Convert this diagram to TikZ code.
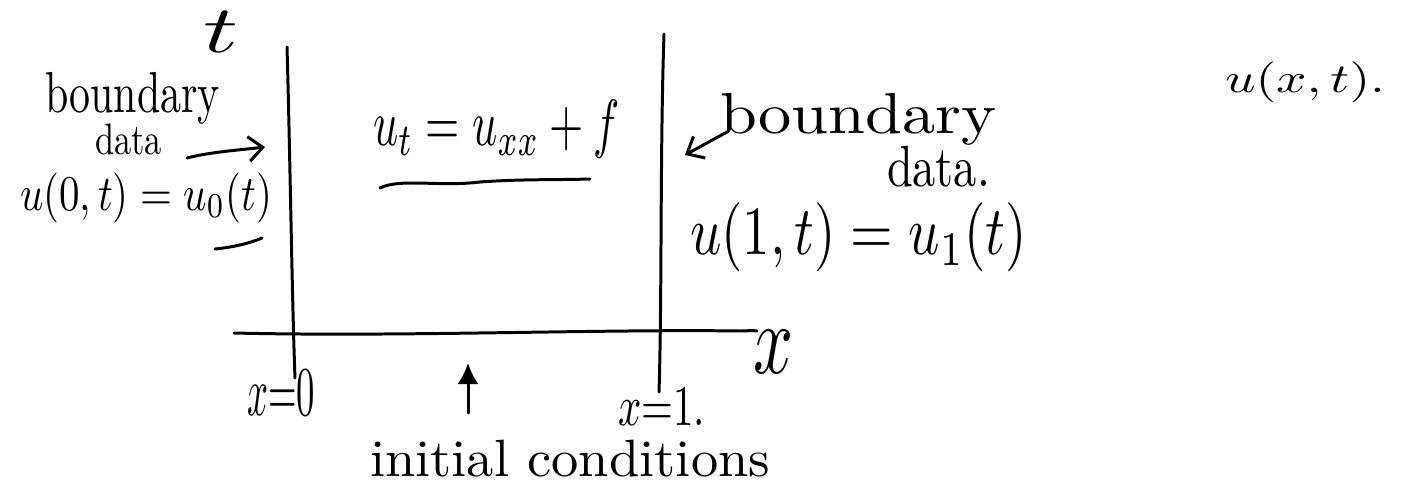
\documentclass[tikz,border=0pt]{standalone}
\usetikzlibrary{arrows.meta}
\newlength\pxu \setlength\pxu{0.02cm}
\newcommand\fitbox[3]{\resizebox*{#1\pxu}{#2\pxu}{#3}}
\tikzset{
  ink/.style={line width=1.7pt, line cap=round, line join=round},
  lbl/.style={inner sep=0pt, outer sep=0pt, anchor=north west},
  barb/.style={-{Straight Barb[length=8pt,width=14pt]}},
  uparrow/.style={-{Latex[length=12pt,width=12pt]}},
}
\begin{document}
\begin{tikzpicture}[x=0.02cm,y=-0.02cm]
\useasboundingbox[fill=white] (0,0) rectangle (1402,489);

% labels
\node[lbl] (t) at (203,12) {\fitbox{35}{41}{$t$}};
\node[lbl] (bdL) at (45,72) {\fitbox{175}{52}{boundary}};
\node[lbl] (daL) at (95,124) {\fitbox{67}{31}{data}};
\node[lbl] (u0) at (20,173) {\fitbox{252}{50}{$u(0,t)=u_0(t)$}};
\node[lbl] (pde) at (373,100) {\fitbox{247}{58}{$u_t=u_{xx}+f$}};
\node[lbl] (bdR) at (720,93) {\fitbox{277}{52}{boundary}};
\node[lbl] (daR) at (887,146) {\fitbox{103}{41}{data.}};
\node[lbl] (u1) at (690,203) {\fitbox{337}{69}{$u(1,t) = u_1(t)$}};
\node[lbl] (uxt) at (1225,62) {\fitbox{160}{41}{$u(x,t).$}};
\node[lbl] (X) at (753,330) {\fitbox{40}{43}{$x$}};
\node[lbl] (x0) at (247,370) {\fitbox{68}{45}{$x{=}0$}};
\node[lbl] (x1) at (618,388) {\fitbox{87}{37}{$x{=}1.$}};
\node[lbl] (ic) at (370,440) {\fitbox{400}{37}{initial conditions}};

% coordinates
\coordinate (Ltop) at (287,47);
\coordinate (Lbot) at (295,378);
\coordinate (Rtop) at (664,34);
\coordinate (Rbot) at (659,392);
\coordinate (Ax0) at (234,333);
\coordinate (Ax1) at (757,331);
\coordinate (la0) at (187,158);
\coordinate (la1) at (265,147);
\coordinate (ra0) at (727,132);
\coordinate (ra1) at (685,155);
\coordinate (ua0) at (468,413);
\coordinate (ua1) at (468,363);
\coordinate (ul0) at (215,249);
\coordinate (ul1) at (262,238);
\coordinate (up0) at (380,188);
\coordinate (up1) at (590,179);

% lines
\draw[ink] (Ltop) .. controls (290,150) and (292,300) .. (Lbot);
\draw[ink] (Rtop) .. controls (660,150) and (662,300) .. (Rbot);
\draw[ink] (Ax0) .. controls (400,337) and (600,329) .. (740,331) .. controls (748,331) and (753,330) .. (Ax1);
\draw[ink,barb] (la0) .. controls (210,152) and (240,150) .. (la1);
\draw[ink,barb] (ra0) -- (ra1);
\draw[ink,uparrow] (ua0) -- (ua1);
\draw[ink] (ul0) .. controls (235,247) and (250,243) .. (ul1);
\draw[ink] (up0) .. controls (400,178) and (440,187) .. (480,182) .. controls (520,179) and (560,180) .. (up1);
\end{tikzpicture}
\end{document}
